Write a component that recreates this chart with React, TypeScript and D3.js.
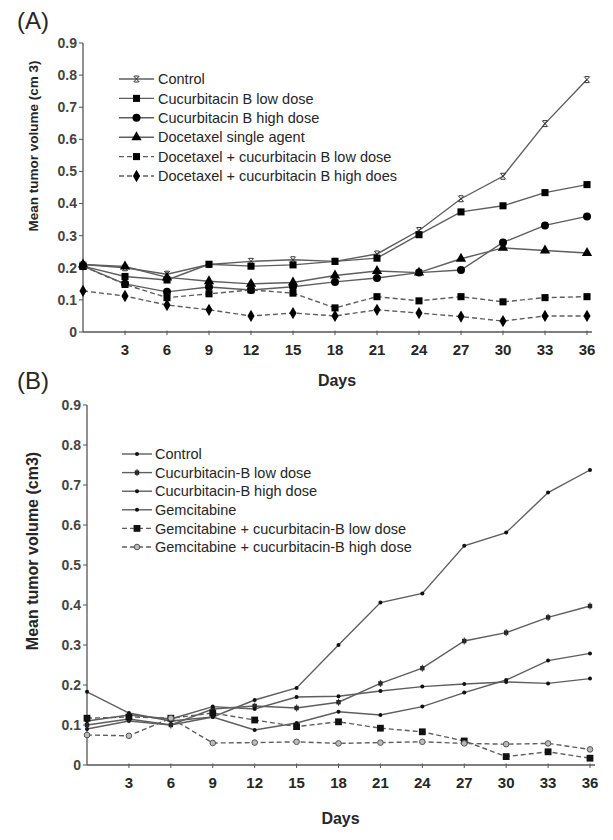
import React from "react";
import * as d3 from "d3";

const days = [0, 3, 6, 9, 12, 15, 18, 21, 24, 27, 30, 33, 36];
const tickDays = [3, 6, 9, 12, 15, 18, 21, 24, 27, 30, 33, 36];
const yTicks = [0, 0.1, 0.2, 0.3, 0.4, 0.5, 0.6, 0.7, 0.8, 0.9];

// Panel A
const aNames = [
  "Control",
  "Cucurbitacin B low dose",
  "Cucurbitacin B high dose",
  "Docetaxel single agent",
  "Docetaxel + cucurbitacin B low dose",
  "Docetaxel + cucurbitacin B high does",
];
const aControl = [0.21, 0.2, 0.18, 0.21, 0.22, 0.225, 0.22, 0.243, 0.316, 0.415, 0.485, 0.649, 0.786];
const aCuLow = [0.205, 0.173, 0.162, 0.211, 0.205, 0.209, 0.22, 0.23, 0.303, 0.374, 0.393, 0.434, 0.459];
const aCuHigh = [0.205, 0.15, 0.125, 0.14, 0.131, 0.141, 0.156, 0.168, 0.185, 0.193, 0.279, 0.332, 0.36];
const aDoc = [0.21, 0.204, 0.17, 0.158, 0.15, 0.154, 0.176, 0.19, 0.185, 0.228, 0.262, 0.254, 0.246];
const aDocLow = [0.205, 0.148, 0.107, 0.119, 0.131, 0.121, 0.075, 0.11, 0.097, 0.11, 0.094, 0.107, 0.11];
const aDocHigh = [0.128, 0.112, 0.084, 0.069, 0.05, 0.059, 0.05, 0.069, 0.059, 0.048, 0.034, 0.05, 0.05];

// Panel B
const bNames = [
  "Control",
  "Cucurbitacin-B low dose",
  "Cucurbitacin-B high dose",
  "Gemcitabine",
  "Gemcitabine + cucurbitacin-B low dose",
  "Gemcitabine + cucurbitacin-B high dose",
];
const bControl = [0.09, 0.11, 0.1, 0.12, 0.1625, 0.1925, 0.3, 0.406, 0.429, 0.548, 0.581, 0.681, 0.7375];
const bCuLow = [0.1, 0.115, 0.1, 0.14, 0.1475, 0.1425, 0.157, 0.204, 0.242, 0.31, 0.331, 0.369, 0.3975];
const bCuHigh = [0.183, 0.13, 0.11, 0.12, 0.0875, 0.105, 0.133, 0.125, 0.146, 0.181, 0.2125, 0.261, 0.279];
const bGem = [0.11, 0.125, 0.115, 0.146, 0.14, 0.17, 0.172, 0.185, 0.196, 0.2025, 0.2075, 0.204, 0.216];
const bGemLow = [0.117, 0.12, 0.117, 0.13, 0.1125, 0.096, 0.108, 0.092, 0.083, 0.06, 0.021, 0.033, 0.017];
const bGemHigh = [0.075, 0.073, 0.117, 0.055, 0.056, 0.058, 0.054, 0.056, 0.058, 0.054, 0.052, 0.054, 0.039];

const FONT = "'Liberation Sans', Arial, Helvetica, sans-serif";
const LINE = "#5e5e5e";
const TXT = "#262626";

type MarkerKind = "xbar" | "square" | "circle" | "triangle" | "diamond" | "dot" | "smallsq" | "bigsq" | "ocircle";

function Marker({ kind, x, y }: { kind: MarkerKind; x: number; y: number }) {
  const t = `translate(${x},${y})`;
  switch (kind) {
    case "xbar":
      return (
        <g transform={t} stroke="#333" strokeWidth={1} fill="none">
          <path d="M-2.8,-3 L2.8,3 M-2.8,3 L2.8,-3 M-2.2,-3 L2.2,-3 M-2.2,3 L2.2,3" />
        </g>
      );
    case "square":
      return <path transform={t} d={d3.symbol(d3.symbolSquare, 50)()!} fill="#000" />;
    case "circle":
      return <path transform={t} d={d3.symbol(d3.symbolCircle, 50)()!} fill="#000" />;
    case "triangle":
      return <path transform={t} d={d3.symbol(d3.symbolTriangle, 46)()!} fill="#000" />;
    case "diamond":
      return <path transform={t} d={d3.symbol(d3.symbolDiamond, 44)()!} fill="#000" />;
    case "dot":
      return <circle cx={x} cy={y} r={2} fill="#111" />;
    case "smallsq":
      return (
        <g transform={t}>
          <rect x={-2.2} y={-2.2} width={4.4} height={4.4} fill="#222" />
          <path d="M0,-3.5 L0,3.5" stroke="#333" strokeWidth={1} />
        </g>
      );
    case "bigsq":
      return <rect x={x - 3.4} y={y - 3.4} width={6.8} height={6.8} fill="#111" />;
    case "ocircle":
      return <circle cx={x} cy={y} r={2.8} fill="#bbb" stroke="#555" strokeWidth={1} />;
  }
  return null;
}

type Series = { name: string; values: number[]; marker: MarkerKind; dashed: boolean };

function Panel({
  label,
  labelY,
  series,
  x0,
  x1,
  yBottom,
  yTop,
  yLabel,
  yLabelSize,
  yLabelCenter,
  tickLabelY,
  daysY,
  tickFont,
  legendX,
  legendY,
  legendStep,
}: {
  label: string;
  labelY: number;
  series: Series[];
  x0: number;
  x1: number;
  yBottom: number;
  yTop: number;
  yLabel: string;
  yLabelSize: number;
  yLabelCenter: number;
  tickLabelY: number;
  daysY: number;
  tickFont: number;
  legendX: number[];
  legendY: number;
  legendStep: number;
}) {
  const x = d3.scaleLinear().domain([0, 36]).range([x0, x1]);
  const y = d3.scaleLinear().domain([0, 0.9]).range([yBottom, yTop]);
  const line = d3
    .line<number>()
    .x((_, i) => x(days[i]))
    .y((v) => y(v));
  const fmt = (v: number) => (v === 0 ? "0" : d3.format(".1f")(v));
  return (
    <g>
      <text x={17} y={labelY} fontFamily={FONT} fontSize={24} fill={TXT}>
        {label}
      </text>
      {/* axes */}
      <line x1={x0} x2={x0} y1={yTop} y2={yBottom} stroke="#555" strokeWidth={1.3} />
      <line x1={x0} x2={x1 + 5} y1={yBottom} y2={yBottom} stroke="#555" strokeWidth={1.3} />
      {yTicks.map((t) => (
        <g key={t}>
          <line x1={x0 - 4} x2={x0} y1={y(t)} y2={y(t)} stroke="#555" strokeWidth={1} />
          <text
            x={x0 - 6}
            y={y(t)}
            dy="0.35em"
            textAnchor="end"
            fontFamily={FONT}
            fontSize={14}
            fontWeight="bold"
            fill="#444"
          >
            {fmt(t)}
          </text>
        </g>
      ))}
      {tickDays.map((d) => (
        <g key={d}>
          <line x1={x(d)} x2={x(d)} y1={yBottom - 1.5} y2={yBottom + 3} stroke="#555" strokeWidth={1} />
          <text
            x={x(d)}
            y={tickLabelY}
            textAnchor="middle"
            fontFamily={FONT}
            fontSize={tickFont}
            fontWeight="bold"
            fill={TXT}
          >
            {d}
          </text>
        </g>
      ))}
      <text
        x={(x0 + x1) / 2 + 2}
        y={daysY}
        textAnchor="middle"
        fontFamily={FONT}
        fontSize={16}
        fontWeight="bold"
        fill={TXT}
      >
        Days
      </text>
      <text
        transform={`translate(38,${yLabelCenter}) rotate(-90)`}
        textAnchor="middle"
        fontFamily={FONT}
        fontSize={yLabelSize}
        fontWeight="bold"
        fill={TXT}
      >
        {yLabel}
      </text>
      {/* series */}
      {series.map((s) => (
        <g key={s.name}>
          <path
            d={line(s.values)!}
            fill="none"
            stroke={LINE}
            strokeWidth={1.4}
            strokeDasharray={s.dashed ? "5,3" : undefined}
          />
          {s.values.map((v, i) => (
            <Marker key={i} kind={s.marker} x={x(days[i])} y={y(v)} />
          ))}
        </g>
      ))}
      {/* legend */}
      {series.map((s, i) => {
        const ly = legendY + i * legendStep;
        return (
          <g key={"lg" + s.name}>
            <line
              x1={legendX[0]}
              x2={legendX[1]}
              y1={ly}
              y2={ly}
              stroke={LINE}
              strokeWidth={1.4}
              strokeDasharray={s.dashed ? "5,3" : undefined}
            />
            <Marker kind={s.marker} x={(legendX[0] + legendX[1]) / 2} y={ly} />
            <text x={legendX[2]} y={ly} dy="0.36em" fontFamily={FONT} fontSize={14.5} fill={TXT}>
              {s.name}
            </text>
          </g>
        );
      })}
    </g>
  );
}

export default function App() {
  const aSeries: Series[] = [
    { name: aNames[0], values: aControl, marker: "xbar", dashed: false },
    { name: aNames[1], values: aCuLow, marker: "square", dashed: false },
    { name: aNames[2], values: aCuHigh, marker: "circle", dashed: false },
    { name: aNames[3], values: aDoc, marker: "triangle", dashed: false },
    { name: aNames[4], values: aDocLow, marker: "square", dashed: true },
    { name: aNames[5], values: aDocHigh, marker: "diamond", dashed: true },
  ];
  const bSeries: Series[] = [
    { name: bNames[0], values: bControl, marker: "dot", dashed: false },
    { name: bNames[1], values: bCuLow, marker: "smallsq", dashed: false },
    { name: bNames[2], values: bCuHigh, marker: "dot", dashed: false },
    { name: bNames[3], values: bGem, marker: "dot", dashed: false },
    { name: bNames[4], values: bGemLow, marker: "bigsq", dashed: true },
    { name: bNames[5], values: bGemHigh, marker: "ocircle", dashed: true },
  ];
  return (
    <svg
      width={613}
      height={840}
      viewBox="0 0 613 840"
      style={{ position: "absolute", left: 0, top: 0, background: "#fff" }}
    >
      <rect width={613} height={840} fill="#fff" />
      <Panel
        label="(A)"
        labelY={29}
        series={aSeries}
        x0={83}
        x1={587}
        yBottom={332}
        yTop={43}
        yLabel="Mean tumor volume (cm 3)"
        yLabelSize={13.5}
        yLabelCenter={146}
        tickLabelY={355}
        daysY={386}
        tickFont={15}
        legendX={[119, 154, 158]}
        legendY={79}
        legendStep={19.4}
      />
      <Panel
        label="(B)"
        labelY={389}
        series={bSeries}
        x0={87}
        x1={590}
        yBottom={765}
        yTop={405}
        yLabel="Mean tumor volume (cm3)"
        yLabelSize={16}
        yLabelCenter={551}
        tickLabelY={788}
        daysY={824}
        tickFont={15}
        legendX={[122, 152, 155]}
        legendY={454}
        legendStep={18.6}
      />
    </svg>
  );
}
